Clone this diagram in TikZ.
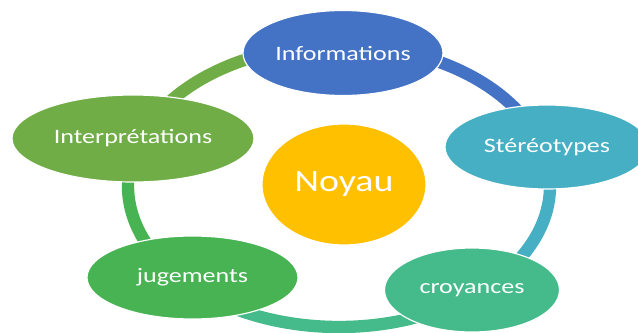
\documentclass[tikz,border=0pt]{standalone}
\usepackage{fontspec}
\setmainfont{Carlito}
\usetikzlibrary{shapes.geometric}
\definecolor{cInf}{HTML}{4472C4}
\definecolor{cSte}{HTML}{46AFC4}
\definecolor{cCro}{HTML}{45BB8C}
\definecolor{cJug}{HTML}{48B352}
\definecolor{cInt}{HTML}{70AD47}
\definecolor{cNoy}{HTML}{FFC000}
\tikzset{
  bubble/.style={ellipse, draw=white, line width=1pt, inner sep=0pt, text=white,
    font=\fontsize{17.5}{20}\selectfont},
  band/.style={line width=0.37cm, line cap=butt},
  ringarc/.style={x radius=6.33cm, y radius=4.23cm},
}
\newcommand{\widetxt}[1]{\scalebox{1.27}[1]{#1}}
\begin{document}
\begin{tikzpicture}[x=0.03cm,y=-0.03cm]
\useasboundingbox (0,0) rectangle (638,333);
\coordinate (ctr) at (339,186);
\path (ctr) ++(90:6.33cm and 4.23cm) coordinate (r1);
\path (ctr) ++(14:6.33cm and 4.23cm) coordinate (r2);
\path (ctr) ++(-50:6.33cm and 4.23cm) coordinate (r3);
\path (ctr) ++(-135:6.33cm and 4.23cm) coordinate (r4);
\path (ctr) ++(165:6.33cm and 4.23cm) coordinate (r5);
% ring segments
\draw[band,cInf] (r1) arc[ringarc,start angle=90,end angle=14];
\draw[band,cSte] (r2) arc[ringarc,start angle=14,end angle=-50];
\draw[band,cCro] (r3) arc[ringarc,start angle=-50,end angle=-135];
\draw[band,cJug] (r4) arc[ringarc,start angle=-135,end angle=-195];
\draw[band,cInt] (r5) arc[ringarc,start angle=165,end angle=90];
% nodes
\node[bubble, fill=cInf, minimum width=6.0cm, minimum height=2.55cm] (inf) at (343,53) {\widetxt{Informations}};
\node[bubble, fill=cSte, minimum width=6.12cm, minimum height=2.52cm] (ste) at (547,147) {\widetxt{Stéréotypes}};
\node[bubble, fill=cCro, minimum width=5.25cm, minimum height=2.52cm] (cro) at (472,290) {\widetxt{croyances}};
\node[bubble, fill=cJug, minimum width=6.33cm, minimum height=2.49cm] (jug) at (192.5,277.5) {\widetxt{jugements}};
\node[bubble, fill=cInt, minimum width=7.26cm, minimum height=2.61cm] (int) at (133,138.5) {\widetxt{Interprétations}};
\node[bubble, fill=cNoy, minimum width=4.92cm, minimum height=3.63cm,
      font=\fontsize{26.5}{30}\selectfont] (noy) at (344,184.5) {\scalebox{1.22}[1]{Noyau}};
\end{tikzpicture}
\end{document}
